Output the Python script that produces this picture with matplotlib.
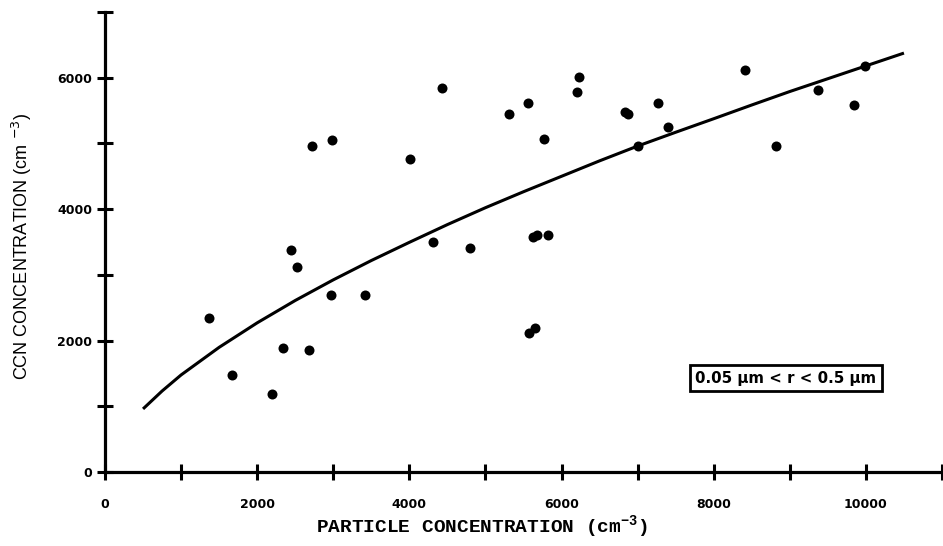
import matplotlib
matplotlib.use("Agg")
import matplotlib.pyplot as plt

# Data
particle_conc = [1367, 1669, 2194, 2339, 2444, 2523, 2685, 2720, 2965, 2987,
                 3417, 4004, 4314, 4433, 4792, 5313, 5554, 5568, 5620, 5647,
                 5681, 5765, 5826, 6202, 6229, 6833, 6869, 7008, 7271, 7394,
                 8410, 8813, 9373, 9842, 9987]
ccn_conc = [2344, 1476, 1187, 1887, 3379, 3120, 1862, 4962, 2699, 5058,
            2699, 4769, 3506, 5850, 3410, 5454, 5612, 2120, 3582, 2192,
            3607, 5064, 3612, 5779, 6017, 5484, 5449, 4967, 5612, 5256,
            6114, 4962, 5810, 5581, 6180]

# Fitted curve
fit_x = [500, 750, 1000, 1500, 2000, 2500, 3000, 3500, 4000, 4500, 5000,
         5500, 6000, 6500, 7000, 7500, 8000, 8500, 9000, 9500, 10000, 10500]
fit_y = [960, 1232, 1477, 1897, 2270, 2610, 2924, 3218, 3495, 3765, 4022,
         4265, 4500, 4735, 4960, 5170, 5376, 5585, 5790, 5985, 6180, 6375]

x_ticks = list(range(0, 11001, 1000))
x_labels = ["0", "", "2000", "", "4000", "", "6000", "", "8000", "", "10000", ""]
y_ticks = list(range(0, 7001, 1000))
y_labels = ["0", "", "2000", "", "4000", "", "6000", ""]

fig = plt.figure(figsize=(9.43, 5.46), dpi=100)
ax = fig.add_axes([105 / 943, 74 / 546, 837 / 943, 460 / 546])

ax.plot(fit_x, fit_y, color="black", lw=2.2, solid_capstyle="butt", zorder=2)
ax.plot(particle_conc, ccn_conc, "o", color="black", markersize=7.2,
        markeredgewidth=0, zorder=3, clip_on=False)

ax.set_xlim(0, 11000)
ax.set_ylim(0, 7000)
for s in ["top", "right"]:
    ax.spines[s].set_visible(False)
for s in ["left", "bottom"]:
    ax.spines[s].set_linewidth(2.3)

ax.set_xticks(x_ticks)
ax.set_xticklabels(x_labels)
ax.set_yticks(y_ticks)
ax.set_yticklabels(y_labels)
ax.tick_params(axis="both", direction="inout", length=12, width=2.2,
               labelsize=9)
ax.tick_params(axis="x", pad=13)
ax.tick_params(axis="y", pad=3)
for lab in ax.get_xticklabels() + ax.get_yticklabels():
    lab.set_fontweight("bold")

# Annotation box
ax.text(0.8136, 0.2043, "0.05 \u00b5m < r < 0.5 \u00b5m", transform=ax.transAxes,
        fontsize=10.8, fontweight="bold", ha="center", va="center",
        bbox=dict(boxstyle="square,pad=0.35", fc="white", ec="black", lw=2))

# Axis labels
fig.text(22 / 943, 1 - 246 / 546, "CCN CONCENTRATION (cm $^{-3}$)",
         rotation=90, ha="center", va="center", fontsize=13,
         family="Liberation Sans", math_fontfamily="dejavusans")
plt.rcParams["mathtext.fontset"] = "custom"
plt.rcParams["mathtext.rm"] = "Liberation Mono:bold"
plt.rcParams["mathtext.it"] = "Liberation Mono:bold"
plt.rcParams["mathtext.bf"] = "Liberation Mono:bold"
fig.text(316 / 943, 1 - 527 / 546, "PARTICLE CONCENTRATION (cm$^{-3}$)",
         ha="left", va="center", fontsize=14, fontweight="bold",
         family="Liberation Mono", math_fontfamily="custom")

fig.savefig("out.png", dpi=100)
